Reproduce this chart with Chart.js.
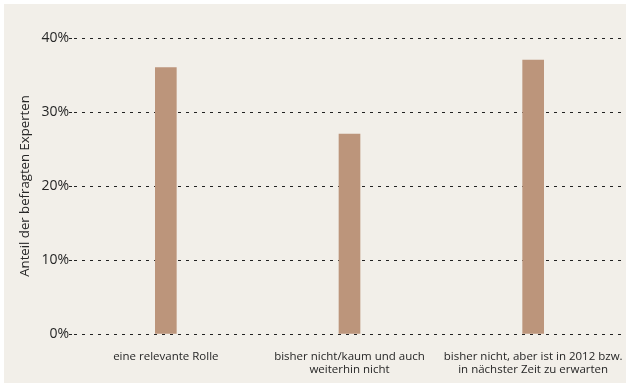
<!DOCTYPE html>
<html>
<head>
<meta charset="utf-8">
<script src="https://cdn.jsdelivr.net/npm/chart.js@4"></script>
<style>
  html, body { margin: 0; padding: 0; background: #ffffff; }
  #wrap { position: absolute; left: 4px; top: 4px; width: 622px; height: 379px; background: #f2efe9; }
  canvas { display: block; }
</style>
</head>
<body>
<div id="wrap"><canvas id="c" width="622" height="379"></canvas></div>
<script>
const categories = [
  "eine relevante Rolle",
  ["bisher nicht/kaum und auch", "weiterhin nicht"],
  ["bisher nicht, aber ist in 2012 bzw.", "in nächster Zeit zu erwarten"]
];
const values = [36, 27, 37];
const yTicks = [0, 10, 20, 30, 40];
const yTitle = "Anteil der befragten Experten";

const FONT = "'Open Sans', sans-serif";
const TXT = "#262626";

new Chart(document.getElementById('c'), {
  type: 'bar',
  data: {
    labels: categories,
    datasets: [{
      data: values,
      backgroundColor: '#bc957b',
      borderWidth: 0,
      barThickness: 21
    }]
  },
  options: {
    responsive: false,
    animation: false,
    devicePixelRatio: 1,
    layout: { padding: { top: 34, right: 1, left: 0, bottom: 0 } },
    plugins: { legend: { display: false }, tooltip: { enabled: false } },
    scales: {
      x: {
        grid: { display: false },
        border: { display: false },
        ticks: {
          color: TXT,
          font: { family: FONT, size: 11.5, lineHeight: 1.15 },
          padding: 8,
          maxRotation: 0,
          autoSkip: false
        },
        afterFit: s => { s.height = 49; s.paddingLeft = 0; s.paddingRight = 0; }
      },
      y: {
        min: 0, max: 40,
        afterBuildTicks: s => { s.ticks = yTicks.map(v => ({ value: v })); },
        grid: {
          color: '#222222',
          lineWidth: 1,
          drawTicks: true,
          tickLength: 5,
          tickColor: '#222222',
          tickBorderDash: [3, 5]
        },
        border: { display: false, dash: [3, 5] },
        ticks: {
          color: TXT,
          font: { family: FONT, size: 14 },
          padding: 0,
          callback: v => v + '%'
        },
        title: {
          display: true,
          text: yTitle,
          color: TXT,
          font: { family: FONT, size: 13.2 },
          padding: { top: 13, bottom: 0 }
        },
        afterFit: s => { s.width = 70; }
      }
    }
  }
});
</script>
</body>
</html>
